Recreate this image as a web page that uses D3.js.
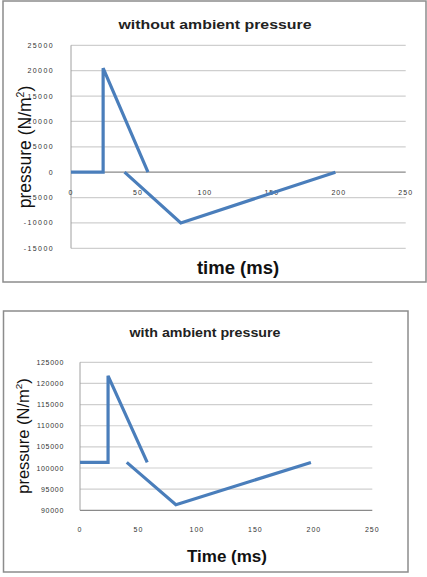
<!DOCTYPE html>
<html>
<head>
<meta charset="utf-8">
<script src="https://cdn.jsdelivr.net/npm/d3@7"></script>
<style>
  body { margin: 0; background: #fff; }
  svg { display: block; font-family: "Liberation Sans", Arial, sans-serif; }
</style>
</head>
<body>
<svg id="chart" width="427" height="577"></svg>
<script>
// data (time in ms, pressure in N/m2)
const timeA = [0, 24, 24, 57.5];
const timeB = [40, 82, 197.5];
const gaugeA = [0, 0, 20500, 0];
const gaugeB = [0, -10000, 0];
const absA = [101325, 101325, 121800, 101325];
const absB = [101325, 91300, 101325];
const timeTicks = [0, 50, 100, 150, 200, 250];
const gaugeTicks = [-15000, -10000, -5000, 0, 5000, 10000, 15000, 20000, 25000];
const absTicks = [90000, 95000, 100000, 105000, 110000, 115000, 120000, 125000];

const svg = d3.select('#chart');
const lineColor = '#4a7ebb';

const zip = (t, p) => t.map((d, i) => ({ t: d, p: p[i] }));

const drawChart = (cfg) => {
  const g = svg.append('g');

  // outer frame
  g.append('rect')
    .attr('x', cfg.frame[0]).attr('y', cfg.frame[1])
    .attr('width', cfg.frame[2]).attr('height', cfg.frame[3])
    .attr('fill', 'none')
    .attr('stroke', '#8c8c8c')
    .attr('stroke-width', 1.5);

  const x = d3.scaleLinear().domain([0, 250]).range([cfg.left, cfg.right]);
  const y = d3.scaleLinear().domain(cfg.yDomain).range([cfg.bottom, cfg.top]);

  // gridlines
  g.append('g').selectAll('line')
    .data(cfg.yTicks)
    .enter()
    .append('line')
    .attr('x1', cfg.left).attr('x2', cfg.right)
    .attr('y1', (d) => y(d)).attr('y2', (d) => y(d))
    .attr('stroke', (d) => (d === cfg.axisAt ? '#8a8a8a' : '#cfcfcf'))
    .attr('stroke-width', 1.2);

  // vertical axis line
  g.append('line')
    .attr('x1', cfg.left).attr('x2', cfg.left)
    .attr('y1', cfg.top).attr('y2', cfg.bottom)
    .attr('stroke', '#a0a0a0');

  // y tick labels
  g.append('g').selectAll('text')
    .data(cfg.yTicks)
    .enter()
    .append('text')
    .attr('x', cfg.yLabelX)
    .attr('y', (d) => y(d) + 2.5)
    .attr('text-anchor', 'end')
    .attr('font-size', 7)
    .attr('letter-spacing', cfg.tickSpacing)
    .attr('fill', '#333')
    .text((d) => d);

  // x tick labels
  g.append('g').selectAll('text')
    .data(timeTicks)
    .enter()
    .append('text')
    .attr('x', (d) => x(d))
    .attr('y', cfg.xLabelY)
    .attr('text-anchor', 'middle')
    .attr('font-size', 7)
    .attr('letter-spacing', 1)
    .attr('fill', '#333')
    .text((d) => d);

  // series
  const line = d3.line().x((d) => x(d.t)).y((d) => y(d.p));
  cfg.series.forEach((s) => {
    g.append('path')
      .datum(s)
      .attr('d', line)
      .attr('fill', 'none')
      .attr('stroke', lineColor)
      .attr('stroke-width', 3.2)
      .attr('stroke-linejoin', 'miter');
  });

  // title
  g.append('text')
    .attr('x', cfg.title.x).attr('y', cfg.title.y)
    .attr('text-anchor', 'middle')
    .attr('font-size', 12)
    .attr('font-weight', 'bold')
    .attr('fill', '#222')
    .attr('textLength', cfg.title.len)
    .attr('lengthAdjust', 'spacingAndGlyphs')
    .text(cfg.title.text);

  // x axis title
  g.append('text')
    .attr('x', cfg.xTitle.x).attr('y', cfg.xTitle.y)
    .attr('text-anchor', 'middle')
    .attr('font-size', cfg.xTitle.size)
    .attr('font-weight', 'bold')
    .attr('fill', '#111')
    .text(cfg.xTitle.text);

  // y axis title
  const yt = g.append('text')
    .attr('transform', `translate(${cfg.yTitle.x},${cfg.yTitle.y}) rotate(-90)`)
    .attr('text-anchor', 'middle')
    .attr('font-size', cfg.yTitle.size)
    .attr('fill', '#111');
  yt.append('tspan').text('pressure (N/m');
  yt.append('tspan').attr('font-size', cfg.yTitle.size * 0.6).attr('dy', -cfg.yTitle.size * 0.4).text('2');
  yt.append('tspan').attr('dy', cfg.yTitle.size * 0.4).text(')');
};

drawChart({
  frame: [3, 1, 423, 281],
  left: 71, right: 405.7, top: 45.3, bottom: 248.3,
  yDomain: [-15000, 25000],
  yTicks: gaugeTicks,
  axisAt: 0,
  yLabelX: 54,
  tickSpacing: 1.4,
  xLabelY: 195,
  series: [zip(timeA, gaugeA), zip(timeB, gaugeB)],
  title: { text: 'without ambient pressure', x: 215, y: 29, len: 193 },
  xTitle: { text: 'time (ms)', x: 238, y: 274, size: 18.5 },
  yTitle: { x: 31, y: 147, size: 17.5 },
});

drawChart({
  frame: [3.5, 311, 404.5, 261],
  left: 80, right: 372.3, top: 362.3, bottom: 510.3,
  yDomain: [90000, 125000],
  yTicks: absTicks,
  axisAt: 90000,
  yLabelX: 64,
  tickSpacing: 0.7,
  xLabelY: 531.5,
  series: [zip(timeA, absA), zip(timeB, absB)],
  title: { text: 'with ambient pressure', x: 205, y: 337, len: 151 },
  xTitle: { text: 'Time (ms)', x: 227, y: 561.5, size: 17 },
  yTitle: { x: 29, y: 436, size: 16.5 },
});
</script>
</body>
</html>
